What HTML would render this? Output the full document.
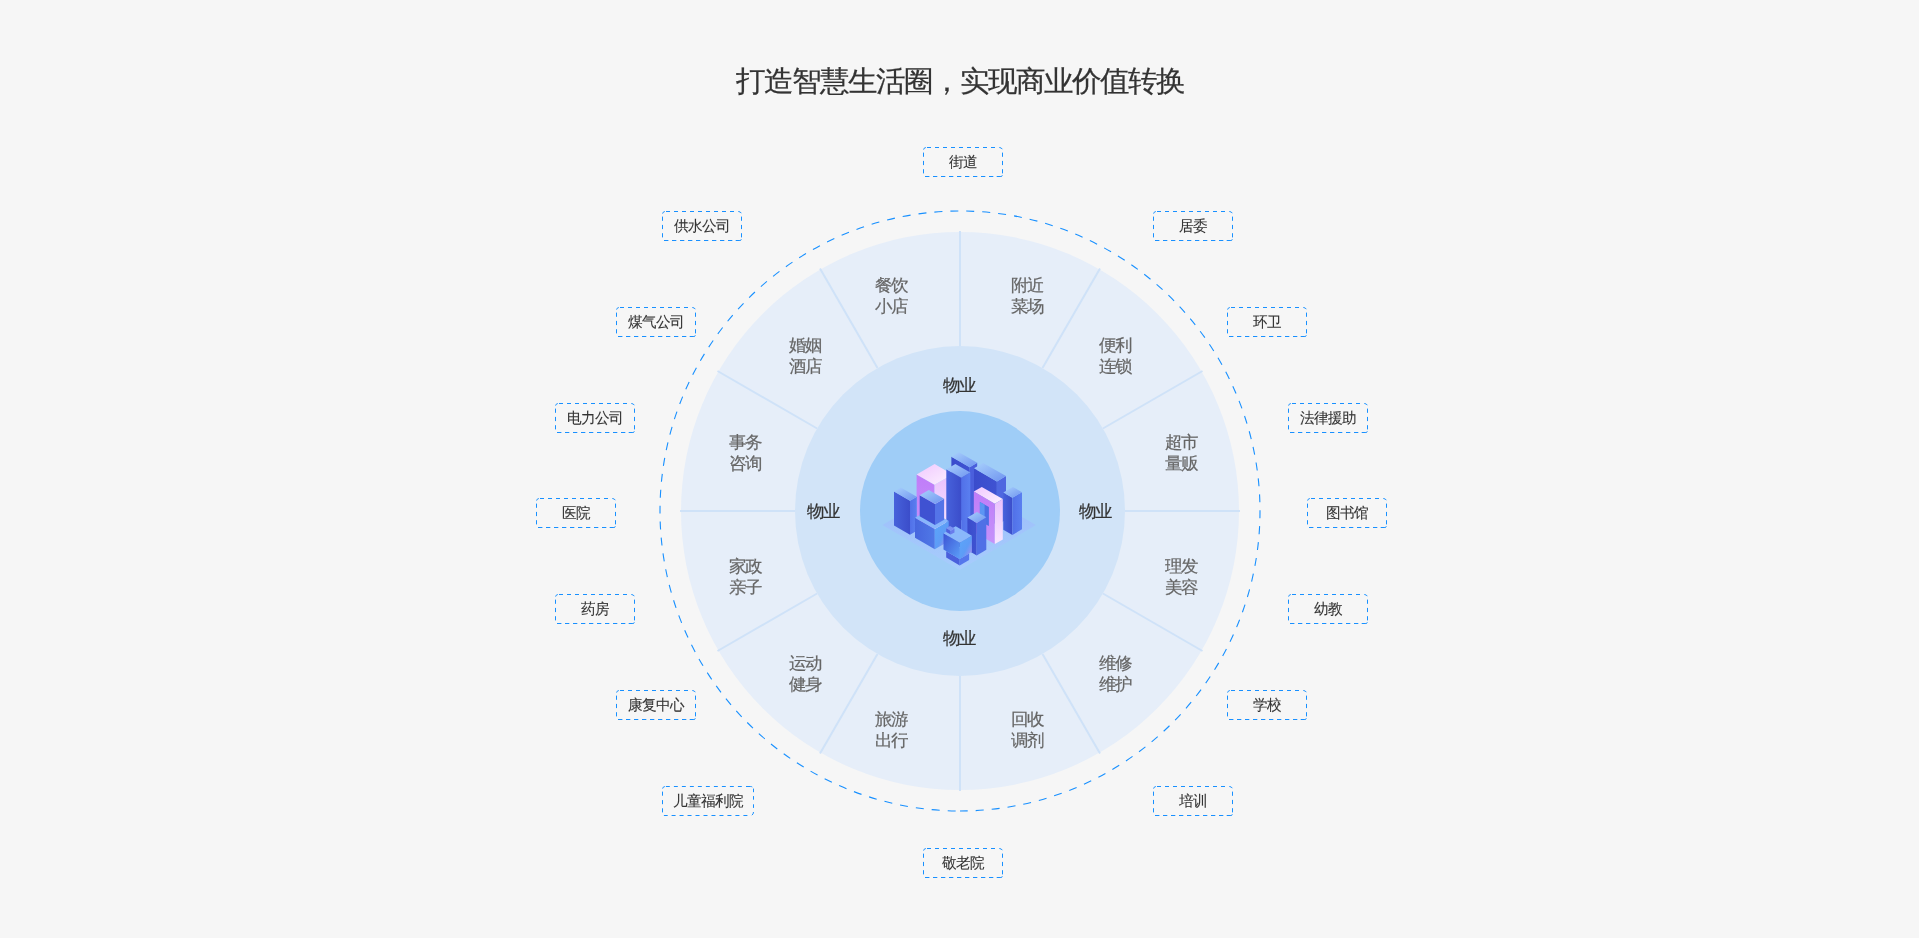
<!DOCTYPE html><html><head><meta charset="utf-8"><style>
html,body{margin:0;padding:0}
body{width:1919px;height:938px;overflow:hidden;background:#f6f6f6;position:relative;font-family:"Liberation Sans",sans-serif}
.t{position:absolute;left:0;width:1919px;text-align:center;top:62px;padding-left:3px;box-sizing:border-box;font-size:28px;line-height:40px;color:#333}
.s{position:absolute;width:80px;text-align:center;font-size:16px;line-height:21px;color:#666}
.w{position:absolute;width:80px;text-align:center;font-size:16px;line-height:20px;color:#333}
.b{position:absolute;height:30px;font-size:14px;line-height:30px;color:#333;text-align:center;white-space:nowrap}
i{display:inline-block;font-style:normal}
.t,.s,.w,.b{will-change:transform}
.t,.s,.w{-webkit-text-stroke:0.2px currentColor}
.b{-webkit-text-stroke:0.1px currentColor}
</style></head><body>
<div class="t"><i style="transform:scale(1.07,1.05)">打</i><i style="transform:scale(1.07,1.05)">造</i><i style="transform:scale(1.07,1.05)">智</i><i style="transform:scale(1.07,1.05)">慧</i><i style="transform:scale(1.07,1.05)">生</i><i style="transform:scale(1.07,1.05)">活</i><i style="transform:scale(1.07,1.05)">圈</i><i style="transform:scale(1.07,1.05)">，</i><i style="transform:scale(1.07,1.05)">实</i><i style="transform:scale(1.07,1.05)">现</i><i style="transform:scale(1.07,1.05)">商</i><i style="transform:scale(1.07,1.05)">业</i><i style="transform:scale(1.07,1.05)">价</i><i style="transform:scale(1.07,1.05)">值</i><i style="transform:scale(1.07,1.05)">转</i><i style="transform:scale(1.07,1.05)">换</i></div>
<svg width="1919" height="938" viewBox="0 0 1919 938" style="position:absolute;left:0;top:0"><path d="M 960 811 A 300 300 0 1 1 960 211 A 300 300 0 1 1 960 811" fill="none" stroke="#1890ff" stroke-width="1.1" stroke-dasharray="8 8" stroke-dashoffset="11.6"/><circle cx="960" cy="511" r="279" fill="#e6eef9"/><line x1="960.00" y1="346.00" x2="960.00" y2="231.00" stroke="#cfe2f8" stroke-width="2"/><line x1="1042.50" y1="368.11" x2="1100.00" y2="268.51" stroke="#cfe2f8" stroke-width="2"/><line x1="1102.89" y1="428.50" x2="1202.49" y2="371.00" stroke="#cfe2f8" stroke-width="2"/><line x1="1125.00" y1="511.00" x2="1240.00" y2="511.00" stroke="#cfe2f8" stroke-width="2"/><line x1="1102.89" y1="593.50" x2="1202.49" y2="651.00" stroke="#cfe2f8" stroke-width="2"/><line x1="1042.50" y1="653.89" x2="1100.00" y2="753.49" stroke="#cfe2f8" stroke-width="2"/><line x1="960.00" y1="676.00" x2="960.00" y2="791.00" stroke="#cfe2f8" stroke-width="2"/><line x1="877.50" y1="653.89" x2="820.00" y2="753.49" stroke="#cfe2f8" stroke-width="2"/><line x1="817.11" y1="593.50" x2="717.51" y2="651.00" stroke="#cfe2f8" stroke-width="2"/><line x1="795.00" y1="511.00" x2="680.00" y2="511.00" stroke="#cfe2f8" stroke-width="2"/><line x1="817.11" y1="428.50" x2="717.51" y2="371.00" stroke="#cfe2f8" stroke-width="2"/><line x1="877.50" y1="368.11" x2="820.00" y2="268.51" stroke="#cfe2f8" stroke-width="2"/><circle cx="960" cy="511" r="165" fill="#d2e4f8"/><circle cx="960" cy="511" r="100" fill="#9fcdf7"/><defs>
<linearGradient id="gTop" x1="0" y1="0" x2="1" y2="1"><stop offset="0" stop-color="#a8d0fc"/><stop offset="1" stop-color="#6f94f0"/></linearGradient>
<linearGradient id="gLeft" x1="0" y1="0" x2="1" y2="0"><stop offset="0" stop-color="#4762db"/><stop offset="1" stop-color="#3b4dca"/></linearGradient>
<linearGradient id="gRight" x1="0" y1="0" x2="1" y2="0"><stop offset="0" stop-color="#5170e8"/><stop offset="1" stop-color="#5a7ff0"/></linearGradient>
<linearGradient id="gLeftD" x1="0" y1="0" x2="1" y2="0"><stop offset="0" stop-color="#3a4ccc"/><stop offset="1" stop-color="#3f53d2"/></linearGradient>
<linearGradient id="gPTop" x1="0" y1="0" x2="1" y2="1"><stop offset="0" stop-color="#f0c8ff"/><stop offset="1" stop-color="#fdf2ff"/></linearGradient>
<linearGradient id="gPLeft" x1="0" y1="0" x2="0" y2="1"><stop offset="0" stop-color="#c07cf8"/><stop offset="1" stop-color="#c592fa"/></linearGradient>
<linearGradient id="gPRight" x1="0" y1="0" x2="0" y2="1"><stop offset="0" stop-color="#e9c0fd"/><stop offset="1" stop-color="#f9e6ff"/></linearGradient>
<linearGradient id="gBoxL" x1="0" y1="0" x2="1" y2="1"><stop offset="0" stop-color="#3d54d5"/><stop offset="1" stop-color="#5b9ef7"/></linearGradient>
<linearGradient id="gBoxL2" x1="0" y1="0" x2="1" y2="0"><stop offset="0" stop-color="#4766de"/><stop offset="1" stop-color="#4f78e6"/></linearGradient>
<linearGradient id="gBoxR" x1="0" y1="0" x2="1" y2="1"><stop offset="0" stop-color="#5aa6f9"/><stop offset="0.55" stop-color="#5e9cf6"/><stop offset="1" stop-color="#b48cf0"/></linearGradient>
<linearGradient id="gPlat" x1="0" y1="0" x2="0" y2="1"><stop offset="0" stop-color="#9ab8fa"/><stop offset="1" stop-color="#a8ccfd"/></linearGradient>
</defs><polygon points="882.4,525.1 959,480 1035.9,525.1 959.6,570" fill="url(#gPlat)" opacity="0.9"/><polygon points="951.40,456.63 969.70,467.20 969.70,525.00 951.40,514.43" fill="url(#gLeftD)"/><polygon points="969.70,467.20 977.20,462.87 977.20,520.67 969.70,525.00" fill="#4a5fdc"/><polygon points="958.90,452.30 977.20,462.87 969.70,467.20 951.40,456.63" fill="url(#gTop)"/><polygon points="916.60,474.49 934.50,484.83 934.50,530.00 916.60,519.67" fill="url(#gPLeft)"/><polygon points="934.50,484.83 952.50,474.43 952.50,519.61 934.50,530.00" fill="url(#gPRight)"/><polygon points="934.60,464.10 952.50,474.43 934.50,484.83 916.60,474.49" fill="url(#gPTop)"/><polygon points="974.00,468.15 996.90,481.38 996.90,525.00 974.00,511.78" fill="url(#gLeftD)"/><polygon points="996.90,481.38 1006.00,476.12 1006.00,519.75 996.90,525.00" fill="#4f68e0"/><polygon points="983.10,462.90 1006.00,476.12 996.90,481.38 974.00,468.15" fill="url(#gTop)"/><polygon points="946.30,469.25 961.20,477.86 961.20,548.00 946.30,539.40" fill="url(#gLeft)"/><polygon points="961.20,477.86 970.30,472.60 970.30,542.75 961.20,548.00" fill="url(#gRight)"/><polygon points="955.40,464.00 970.30,472.60 961.20,477.86 946.30,469.25" fill="url(#gTop)"/><polygon points="1003.30,492.44 1012.40,497.70 1012.40,534.90 1003.30,529.65" fill="url(#gLeft)"/><polygon points="1012.40,497.70 1022.00,492.15 1022.00,529.36 1012.40,534.90" fill="url(#gRight)"/><polygon points="1012.90,486.90 1022.00,492.15 1012.40,497.70 1003.30,492.44" fill="url(#gTop)"/><polygon points="973.80,491.52 994.80,503.64 994.80,544.00 973.80,531.88" fill="url(#gPLeft)"/><polygon points="994.80,503.64 1002.80,499.02 1002.80,539.38 994.80,544.00" fill="url(#gPRight)"/><polygon points="981.80,486.90 1002.80,499.02 994.80,503.64 973.80,491.52" fill="url(#gPTop)"/><polygon points="979.9,501.9 988.9,507 988.9,526 979.9,521.6" fill="#4a6fe4"/><polygon points="979.9,501.9 984.6,504.6 984.6,524 979.9,521.6" fill="#5c95f3"/><polygon points="894.00,491.53 910.00,500.76 910.00,534.70 894.00,525.46" fill="url(#gLeft)"/><polygon points="910.00,500.76 916.80,496.84 916.80,530.77 910.00,534.70" fill="url(#gRight)"/><polygon points="900.80,487.60 916.80,496.84 910.00,500.76 894.00,491.53" fill="url(#gTop)"/><polygon points="915.00,517.63 934.80,529.06 934.80,549.20 915.00,537.77" fill="url(#gBoxL2)"/><polygon points="934.80,529.06 948.70,521.03 948.70,541.17 934.80,549.20" fill="url(#gBoxR)"/><polygon points="928.90,509.60 948.70,521.03 934.80,529.06 915.00,517.63" fill="#88b6fb"/><polygon points="919.70,495.25 935.00,504.09 935.00,525.00 919.70,516.17" fill="#3f52d2"/><polygon points="935.00,504.09 944.10,498.83 944.10,519.75 935.00,525.00" fill="#5474e8"/><polygon points="928.80,490.00 944.10,498.83 935.00,504.09 919.70,495.25" fill="url(#gTop)"/><polygon points="967.40,517.54 976.70,522.91 976.70,555.40 967.40,550.03" fill="url(#gLeftD)"/><polygon points="976.70,522.91 986.30,517.37 986.30,549.86 976.70,555.40" fill="#5070e6"/><polygon points="977.00,512.00 986.30,517.37 976.70,522.91 967.40,517.54" fill="url(#gTop)"/><polygon points="946.20,551.13 959.70,558.92 959.70,565.40 946.20,557.61" fill="#4a5fdc"/><polygon points="959.70,558.92 969.10,553.49 969.10,559.97 959.70,565.40" fill="#5577ec"/><polygon points="955.60,545.70 969.10,553.49 959.70,558.92 946.20,551.13" fill="#6a8ff0"/><polygon points="943.50,533.34 959.70,542.70 959.70,558.90 943.50,549.55" fill="url(#gBoxL)"/><polygon points="959.70,542.70 971.90,535.65 971.90,551.86 959.70,558.90" fill="url(#gBoxR)"/><polygon points="955.70,526.30 971.90,535.65 959.70,542.70 943.50,533.34" fill="#8ab8fb"/><polygon points="946.20,528.19 950.70,530.79 950.70,534.60 946.20,532.00" fill="#4f62de"/><polygon points="950.70,530.79 954.50,528.60 954.50,532.41 950.70,534.60" fill="#6a7cec"/><polygon points="950.00,526.00 954.50,528.60 950.70,530.79 946.20,528.19" fill="#7d92f2"/></svg>
<div class="s" style="left:852px;top:275px"><i style="transform:scale(1.08,1.05)">餐</i><i style="transform:scale(1.08,1.05)">饮</i><br><i style="transform:scale(1.08,1.05)">小</i><i style="transform:scale(1.08,1.05)">店</i></div>
<div class="s" style="left:988px;top:275px"><i style="transform:scale(1.08,1.05)">附</i><i style="transform:scale(1.08,1.05)">近</i><br><i style="transform:scale(1.08,1.05)">菜</i><i style="transform:scale(1.08,1.05)">场</i></div>
<div class="s" style="left:766px;top:335px"><i style="transform:scale(1.08,1.05)">婚</i><i style="transform:scale(1.08,1.05)">姻</i><br><i style="transform:scale(1.08,1.05)">酒</i><i style="transform:scale(1.08,1.05)">店</i></div>
<div class="s" style="left:1076px;top:335px"><i style="transform:scale(1.08,1.05)">便</i><i style="transform:scale(1.08,1.05)">利</i><br><i style="transform:scale(1.08,1.05)">连</i><i style="transform:scale(1.08,1.05)">锁</i></div>
<div class="s" style="left:706px;top:432px"><i style="transform:scale(1.08,1.05)">事</i><i style="transform:scale(1.08,1.05)">务</i><br><i style="transform:scale(1.08,1.05)">咨</i><i style="transform:scale(1.08,1.05)">询</i></div>
<div class="s" style="left:1142px;top:432px"><i style="transform:scale(1.08,1.05)">超</i><i style="transform:scale(1.08,1.05)">市</i><br><i style="transform:scale(1.08,1.05)">量</i><i style="transform:scale(1.08,1.05)">贩</i></div>
<div class="s" style="left:706px;top:556px"><i style="transform:scale(1.08,1.05)">家</i><i style="transform:scale(1.08,1.05)">政</i><br><i style="transform:scale(1.08,1.05)">亲</i><i style="transform:scale(1.08,1.05)">子</i></div>
<div class="s" style="left:1142px;top:556px"><i style="transform:scale(1.08,1.05)">理</i><i style="transform:scale(1.08,1.05)">发</i><br><i style="transform:scale(1.08,1.05)">美</i><i style="transform:scale(1.08,1.05)">容</i></div>
<div class="s" style="left:766px;top:653px"><i style="transform:scale(1.08,1.05)">运</i><i style="transform:scale(1.08,1.05)">动</i><br><i style="transform:scale(1.08,1.05)">健</i><i style="transform:scale(1.08,1.05)">身</i></div>
<div class="s" style="left:1076px;top:653px"><i style="transform:scale(1.08,1.05)">维</i><i style="transform:scale(1.08,1.05)">修</i><br><i style="transform:scale(1.08,1.05)">维</i><i style="transform:scale(1.08,1.05)">护</i></div>
<div class="s" style="left:852px;top:709px"><i style="transform:scale(1.08,1.05)">旅</i><i style="transform:scale(1.08,1.05)">游</i><br><i style="transform:scale(1.08,1.05)">出</i><i style="transform:scale(1.08,1.05)">行</i></div>
<div class="s" style="left:988px;top:709px"><i style="transform:scale(1.08,1.05)">回</i><i style="transform:scale(1.08,1.05)">收</i><br><i style="transform:scale(1.08,1.05)">调</i><i style="transform:scale(1.08,1.05)">剂</i></div>
<div class="w" style="left:920px;top:376px"><i style="transform:scale(1.08,1.05)">物</i><i style="transform:scale(1.08,1.05)">业</i></div>
<div class="w" style="left:784px;top:502px"><i style="transform:scale(1.08,1.05)">物</i><i style="transform:scale(1.08,1.05)">业</i></div>
<div class="w" style="left:1056px;top:502px"><i style="transform:scale(1.08,1.05)">物</i><i style="transform:scale(1.08,1.05)">业</i></div>
<div class="w" style="left:920px;top:629px"><i style="transform:scale(1.08,1.05)">物</i><i style="transform:scale(1.08,1.05)">业</i></div>
<div class="b" style="left:923px;top:147px;width:80px"><i style="transform:scale(1.04,1.07)">街</i><i style="transform:scale(1.04,1.07)">道</i></div>
<div class="b" style="left:662px;top:211px;width:80px"><i style="transform:scale(1.04,1.07)">供</i><i style="transform:scale(1.04,1.07)">水</i><i style="transform:scale(1.04,1.07)">公</i><i style="transform:scale(1.04,1.07)">司</i></div>
<div class="b" style="left:1153px;top:211px;width:80px"><i style="transform:scale(1.04,1.07)">居</i><i style="transform:scale(1.04,1.07)">委</i></div>
<div class="b" style="left:616px;top:307px;width:80px"><i style="transform:scale(1.04,1.07)">煤</i><i style="transform:scale(1.04,1.07)">气</i><i style="transform:scale(1.04,1.07)">公</i><i style="transform:scale(1.04,1.07)">司</i></div>
<div class="b" style="left:1227px;top:307px;width:80px"><i style="transform:scale(1.04,1.07)">环</i><i style="transform:scale(1.04,1.07)">卫</i></div>
<div class="b" style="left:555px;top:403px;width:80px"><i style="transform:scale(1.04,1.07)">电</i><i style="transform:scale(1.04,1.07)">力</i><i style="transform:scale(1.04,1.07)">公</i><i style="transform:scale(1.04,1.07)">司</i></div>
<div class="b" style="left:1288px;top:403px;width:80px"><i style="transform:scale(1.04,1.07)">法</i><i style="transform:scale(1.04,1.07)">律</i><i style="transform:scale(1.04,1.07)">援</i><i style="transform:scale(1.04,1.07)">助</i></div>
<div class="b" style="left:536px;top:498px;width:80px"><i style="transform:scale(1.04,1.07)">医</i><i style="transform:scale(1.04,1.07)">院</i></div>
<div class="b" style="left:1307px;top:498px;width:80px"><i style="transform:scale(1.04,1.07)">图</i><i style="transform:scale(1.04,1.07)">书</i><i style="transform:scale(1.04,1.07)">馆</i></div>
<div class="b" style="left:555px;top:594px;width:80px"><i style="transform:scale(1.04,1.07)">药</i><i style="transform:scale(1.04,1.07)">房</i></div>
<div class="b" style="left:1288px;top:594px;width:80px"><i style="transform:scale(1.04,1.07)">幼</i><i style="transform:scale(1.04,1.07)">教</i></div>
<div class="b" style="left:616px;top:690px;width:80px"><i style="transform:scale(1.04,1.07)">康</i><i style="transform:scale(1.04,1.07)">复</i><i style="transform:scale(1.04,1.07)">中</i><i style="transform:scale(1.04,1.07)">心</i></div>
<div class="b" style="left:1227px;top:690px;width:80px"><i style="transform:scale(1.04,1.07)">学</i><i style="transform:scale(1.04,1.07)">校</i></div>
<div class="b" style="left:662px;top:786px;width:92px"><i style="transform:scale(1.04,1.07)">儿</i><i style="transform:scale(1.04,1.07)">童</i><i style="transform:scale(1.04,1.07)">福</i><i style="transform:scale(1.04,1.07)">利</i><i style="transform:scale(1.04,1.07)">院</i></div>
<div class="b" style="left:1153px;top:786px;width:80px"><i style="transform:scale(1.04,1.07)">培</i><i style="transform:scale(1.04,1.07)">训</i></div>
<div class="b" style="left:923px;top:848px;width:80px"><i style="transform:scale(1.04,1.07)">敬</i><i style="transform:scale(1.04,1.07)">老</i><i style="transform:scale(1.04,1.07)">院</i></div>
<svg width="1919" height="938" style="position:absolute;left:0;top:0"><path transform="translate(923,147)" d="M0.6,2.6 Q0.8,0.8 2.8,0.5 M4,0.5 h4 M12,0.5 h4 M20,0.5 h4 M28,0.5 h4 M36,0.5 h4 M44,0.5 h4 M52,0.5 h4 M60,0.5 h4 M68,0.5 h4 M76.3,0.5 Q78.6,0.6 79.3,2.2 M0.5,5.6 v4.2 M79.5,5.6 v4.2 M0.5,13.9 v4.2 M79.5,13.9 v4.2 M0.5,22.2 v4.2 M79.5,22.2 v4.2 M2,29.5 h4.4 M10,29.5 h4.3 M18,29.5 h4.3 M26,29.5 h4.3 M34,29.5 h4.3 M42,29.5 h4.3 M50,29.5 h4.3 M58,29.5 h4.3 M66,29.5 h4.3 M73.7,29.5 h4.2 Q79.3,29.3 79.4,28.4 " fill="none" stroke="#1890ff" stroke-width="1"/><path transform="translate(662,211)" d="M0.6,2.6 Q0.8,0.8 2.8,0.5 M4,0.5 h4 M12,0.5 h4 M20,0.5 h4 M28,0.5 h4 M36,0.5 h4 M44,0.5 h4 M52,0.5 h4 M60,0.5 h4 M68,0.5 h4 M76.3,0.5 Q78.6,0.6 79.3,2.2 M0.5,5.6 v4.2 M79.5,5.6 v4.2 M0.5,13.9 v4.2 M79.5,13.9 v4.2 M0.5,22.2 v4.2 M79.5,22.2 v4.2 M2,29.5 h4.4 M10,29.5 h4.3 M18,29.5 h4.3 M26,29.5 h4.3 M34,29.5 h4.3 M42,29.5 h4.3 M50,29.5 h4.3 M58,29.5 h4.3 M66,29.5 h4.3 M73.7,29.5 h4.2 Q79.3,29.3 79.4,28.4 " fill="none" stroke="#1890ff" stroke-width="1"/><path transform="translate(1153,211)" d="M0.6,2.6 Q0.8,0.8 2.8,0.5 M4,0.5 h4 M12,0.5 h4 M20,0.5 h4 M28,0.5 h4 M36,0.5 h4 M44,0.5 h4 M52,0.5 h4 M60,0.5 h4 M68,0.5 h4 M76.3,0.5 Q78.6,0.6 79.3,2.2 M0.5,5.6 v4.2 M79.5,5.6 v4.2 M0.5,13.9 v4.2 M79.5,13.9 v4.2 M0.5,22.2 v4.2 M79.5,22.2 v4.2 M2,29.5 h4.4 M10,29.5 h4.3 M18,29.5 h4.3 M26,29.5 h4.3 M34,29.5 h4.3 M42,29.5 h4.3 M50,29.5 h4.3 M58,29.5 h4.3 M66,29.5 h4.3 M73.7,29.5 h4.2 Q79.3,29.3 79.4,28.4 " fill="none" stroke="#1890ff" stroke-width="1"/><path transform="translate(616,307)" d="M0.6,2.6 Q0.8,0.8 2.8,0.5 M4,0.5 h4 M12,0.5 h4 M20,0.5 h4 M28,0.5 h4 M36,0.5 h4 M44,0.5 h4 M52,0.5 h4 M60,0.5 h4 M68,0.5 h4 M76.3,0.5 Q78.6,0.6 79.3,2.2 M0.5,5.6 v4.2 M79.5,5.6 v4.2 M0.5,13.9 v4.2 M79.5,13.9 v4.2 M0.5,22.2 v4.2 M79.5,22.2 v4.2 M2,29.5 h4.4 M10,29.5 h4.3 M18,29.5 h4.3 M26,29.5 h4.3 M34,29.5 h4.3 M42,29.5 h4.3 M50,29.5 h4.3 M58,29.5 h4.3 M66,29.5 h4.3 M73.7,29.5 h4.2 Q79.3,29.3 79.4,28.4 " fill="none" stroke="#1890ff" stroke-width="1"/><path transform="translate(1227,307)" d="M0.6,2.6 Q0.8,0.8 2.8,0.5 M4,0.5 h4 M12,0.5 h4 M20,0.5 h4 M28,0.5 h4 M36,0.5 h4 M44,0.5 h4 M52,0.5 h4 M60,0.5 h4 M68,0.5 h4 M76.3,0.5 Q78.6,0.6 79.3,2.2 M0.5,5.6 v4.2 M79.5,5.6 v4.2 M0.5,13.9 v4.2 M79.5,13.9 v4.2 M0.5,22.2 v4.2 M79.5,22.2 v4.2 M2,29.5 h4.4 M10,29.5 h4.3 M18,29.5 h4.3 M26,29.5 h4.3 M34,29.5 h4.3 M42,29.5 h4.3 M50,29.5 h4.3 M58,29.5 h4.3 M66,29.5 h4.3 M73.7,29.5 h4.2 Q79.3,29.3 79.4,28.4 " fill="none" stroke="#1890ff" stroke-width="1"/><path transform="translate(555,403)" d="M0.6,2.6 Q0.8,0.8 2.8,0.5 M4,0.5 h4 M12,0.5 h4 M20,0.5 h4 M28,0.5 h4 M36,0.5 h4 M44,0.5 h4 M52,0.5 h4 M60,0.5 h4 M68,0.5 h4 M76.3,0.5 Q78.6,0.6 79.3,2.2 M0.5,5.6 v4.2 M79.5,5.6 v4.2 M0.5,13.9 v4.2 M79.5,13.9 v4.2 M0.5,22.2 v4.2 M79.5,22.2 v4.2 M2,29.5 h4.4 M10,29.5 h4.3 M18,29.5 h4.3 M26,29.5 h4.3 M34,29.5 h4.3 M42,29.5 h4.3 M50,29.5 h4.3 M58,29.5 h4.3 M66,29.5 h4.3 M73.7,29.5 h4.2 Q79.3,29.3 79.4,28.4 " fill="none" stroke="#1890ff" stroke-width="1"/><path transform="translate(1288,403)" d="M0.6,2.6 Q0.8,0.8 2.8,0.5 M4,0.5 h4 M12,0.5 h4 M20,0.5 h4 M28,0.5 h4 M36,0.5 h4 M44,0.5 h4 M52,0.5 h4 M60,0.5 h4 M68,0.5 h4 M76.3,0.5 Q78.6,0.6 79.3,2.2 M0.5,5.6 v4.2 M79.5,5.6 v4.2 M0.5,13.9 v4.2 M79.5,13.9 v4.2 M0.5,22.2 v4.2 M79.5,22.2 v4.2 M2,29.5 h4.4 M10,29.5 h4.3 M18,29.5 h4.3 M26,29.5 h4.3 M34,29.5 h4.3 M42,29.5 h4.3 M50,29.5 h4.3 M58,29.5 h4.3 M66,29.5 h4.3 M73.7,29.5 h4.2 Q79.3,29.3 79.4,28.4 " fill="none" stroke="#1890ff" stroke-width="1"/><path transform="translate(536,498)" d="M0.6,2.6 Q0.8,0.8 2.8,0.5 M4,0.5 h4 M12,0.5 h4 M20,0.5 h4 M28,0.5 h4 M36,0.5 h4 M44,0.5 h4 M52,0.5 h4 M60,0.5 h4 M68,0.5 h4 M76.3,0.5 Q78.6,0.6 79.3,2.2 M0.5,5.6 v4.2 M79.5,5.6 v4.2 M0.5,13.9 v4.2 M79.5,13.9 v4.2 M0.5,22.2 v4.2 M79.5,22.2 v4.2 M2,29.5 h4.4 M10,29.5 h4.3 M18,29.5 h4.3 M26,29.5 h4.3 M34,29.5 h4.3 M42,29.5 h4.3 M50,29.5 h4.3 M58,29.5 h4.3 M66,29.5 h4.3 M73.7,29.5 h4.2 Q79.3,29.3 79.4,28.4 " fill="none" stroke="#1890ff" stroke-width="1"/><path transform="translate(1307,498)" d="M0.6,2.6 Q0.8,0.8 2.8,0.5 M4,0.5 h4 M12,0.5 h4 M20,0.5 h4 M28,0.5 h4 M36,0.5 h4 M44,0.5 h4 M52,0.5 h4 M60,0.5 h4 M68,0.5 h4 M76.3,0.5 Q78.6,0.6 79.3,2.2 M0.5,5.6 v4.2 M79.5,5.6 v4.2 M0.5,13.9 v4.2 M79.5,13.9 v4.2 M0.5,22.2 v4.2 M79.5,22.2 v4.2 M2,29.5 h4.4 M10,29.5 h4.3 M18,29.5 h4.3 M26,29.5 h4.3 M34,29.5 h4.3 M42,29.5 h4.3 M50,29.5 h4.3 M58,29.5 h4.3 M66,29.5 h4.3 M73.7,29.5 h4.2 Q79.3,29.3 79.4,28.4 " fill="none" stroke="#1890ff" stroke-width="1"/><path transform="translate(555,594)" d="M0.6,2.6 Q0.8,0.8 2.8,0.5 M4,0.5 h4 M12,0.5 h4 M20,0.5 h4 M28,0.5 h4 M36,0.5 h4 M44,0.5 h4 M52,0.5 h4 M60,0.5 h4 M68,0.5 h4 M76.3,0.5 Q78.6,0.6 79.3,2.2 M0.5,5.6 v4.2 M79.5,5.6 v4.2 M0.5,13.9 v4.2 M79.5,13.9 v4.2 M0.5,22.2 v4.2 M79.5,22.2 v4.2 M2,29.5 h4.4 M10,29.5 h4.3 M18,29.5 h4.3 M26,29.5 h4.3 M34,29.5 h4.3 M42,29.5 h4.3 M50,29.5 h4.3 M58,29.5 h4.3 M66,29.5 h4.3 M73.7,29.5 h4.2 Q79.3,29.3 79.4,28.4 " fill="none" stroke="#1890ff" stroke-width="1"/><path transform="translate(1288,594)" d="M0.6,2.6 Q0.8,0.8 2.8,0.5 M4,0.5 h4 M12,0.5 h4 M20,0.5 h4 M28,0.5 h4 M36,0.5 h4 M44,0.5 h4 M52,0.5 h4 M60,0.5 h4 M68,0.5 h4 M76.3,0.5 Q78.6,0.6 79.3,2.2 M0.5,5.6 v4.2 M79.5,5.6 v4.2 M0.5,13.9 v4.2 M79.5,13.9 v4.2 M0.5,22.2 v4.2 M79.5,22.2 v4.2 M2,29.5 h4.4 M10,29.5 h4.3 M18,29.5 h4.3 M26,29.5 h4.3 M34,29.5 h4.3 M42,29.5 h4.3 M50,29.5 h4.3 M58,29.5 h4.3 M66,29.5 h4.3 M73.7,29.5 h4.2 Q79.3,29.3 79.4,28.4 " fill="none" stroke="#1890ff" stroke-width="1"/><path transform="translate(616,690)" d="M0.6,2.6 Q0.8,0.8 2.8,0.5 M4,0.5 h4 M12,0.5 h4 M20,0.5 h4 M28,0.5 h4 M36,0.5 h4 M44,0.5 h4 M52,0.5 h4 M60,0.5 h4 M68,0.5 h4 M76.3,0.5 Q78.6,0.6 79.3,2.2 M0.5,5.6 v4.2 M79.5,5.6 v4.2 M0.5,13.9 v4.2 M79.5,13.9 v4.2 M0.5,22.2 v4.2 M79.5,22.2 v4.2 M2,29.5 h4.4 M10,29.5 h4.3 M18,29.5 h4.3 M26,29.5 h4.3 M34,29.5 h4.3 M42,29.5 h4.3 M50,29.5 h4.3 M58,29.5 h4.3 M66,29.5 h4.3 M73.7,29.5 h4.2 Q79.3,29.3 79.4,28.4 " fill="none" stroke="#1890ff" stroke-width="1"/><path transform="translate(1227,690)" d="M0.6,2.6 Q0.8,0.8 2.8,0.5 M4,0.5 h4 M12,0.5 h4 M20,0.5 h4 M28,0.5 h4 M36,0.5 h4 M44,0.5 h4 M52,0.5 h4 M60,0.5 h4 M68,0.5 h4 M76.3,0.5 Q78.6,0.6 79.3,2.2 M0.5,5.6 v4.2 M79.5,5.6 v4.2 M0.5,13.9 v4.2 M79.5,13.9 v4.2 M0.5,22.2 v4.2 M79.5,22.2 v4.2 M2,29.5 h4.4 M10,29.5 h4.3 M18,29.5 h4.3 M26,29.5 h4.3 M34,29.5 h4.3 M42,29.5 h4.3 M50,29.5 h4.3 M58,29.5 h4.3 M66,29.5 h4.3 M73.7,29.5 h4.2 Q79.3,29.3 79.4,28.4 " fill="none" stroke="#1890ff" stroke-width="1"/><path transform="translate(662,786)" d="M0.6,2.6 Q0.8,0.8 2.8,0.5 M3.9,0.5 h3.9 M11.9,0.5 h3.9 M19.9,0.5 h3.9 M27.9,0.5 h3.9 M35.9,0.5 h3.9 M43.9,0.5 h3.9 M51.9,0.5 h3.9 M59.9,0.5 h3.9 M67.9,0.5 h3.9 M75.9,0.5 h3.9 M84,0.5 h4.3 Q89.8,0.5 90.3,1.0 M91.5,2.6 v3.6 M91.5,10.1 v3.6 M91.5,18.3 v3.6 M91.5,26 Q91.4,28.3 89.9,29.2 M0.5,5.6 v4.1 M0.5,14.1 v4.1 M0.5,22.3 v4.1 M1.9,29.5 h3.8 M9.58,29.5 h4 M17.560000000000002,29.5 h4 M25.540000000000003,29.5 h4 M33.52,29.5 h4 M41.50000000000001,29.5 h4 M49.480000000000004,29.5 h4 M57.46,29.5 h4 M65.44,29.5 h4 M73.42,29.5 h4 M81.4,29.5 h4 " fill="none" stroke="#1890ff" stroke-width="1"/><path transform="translate(1153,786)" d="M0.6,2.6 Q0.8,0.8 2.8,0.5 M4,0.5 h4 M12,0.5 h4 M20,0.5 h4 M28,0.5 h4 M36,0.5 h4 M44,0.5 h4 M52,0.5 h4 M60,0.5 h4 M68,0.5 h4 M76.3,0.5 Q78.6,0.6 79.3,2.2 M0.5,5.6 v4.2 M79.5,5.6 v4.2 M0.5,13.9 v4.2 M79.5,13.9 v4.2 M0.5,22.2 v4.2 M79.5,22.2 v4.2 M2,29.5 h4.4 M10,29.5 h4.3 M18,29.5 h4.3 M26,29.5 h4.3 M34,29.5 h4.3 M42,29.5 h4.3 M50,29.5 h4.3 M58,29.5 h4.3 M66,29.5 h4.3 M73.7,29.5 h4.2 Q79.3,29.3 79.4,28.4 " fill="none" stroke="#1890ff" stroke-width="1"/><path transform="translate(923,848)" d="M0.6,2.6 Q0.8,0.8 2.8,0.5 M4,0.5 h4 M12,0.5 h4 M20,0.5 h4 M28,0.5 h4 M36,0.5 h4 M44,0.5 h4 M52,0.5 h4 M60,0.5 h4 M68,0.5 h4 M76.3,0.5 Q78.6,0.6 79.3,2.2 M0.5,5.6 v4.2 M79.5,5.6 v4.2 M0.5,13.9 v4.2 M79.5,13.9 v4.2 M0.5,22.2 v4.2 M79.5,22.2 v4.2 M2,29.5 h4.4 M10,29.5 h4.3 M18,29.5 h4.3 M26,29.5 h4.3 M34,29.5 h4.3 M42,29.5 h4.3 M50,29.5 h4.3 M58,29.5 h4.3 M66,29.5 h4.3 M73.7,29.5 h4.2 Q79.3,29.3 79.4,28.4 " fill="none" stroke="#1890ff" stroke-width="1"/></svg></body></html>
